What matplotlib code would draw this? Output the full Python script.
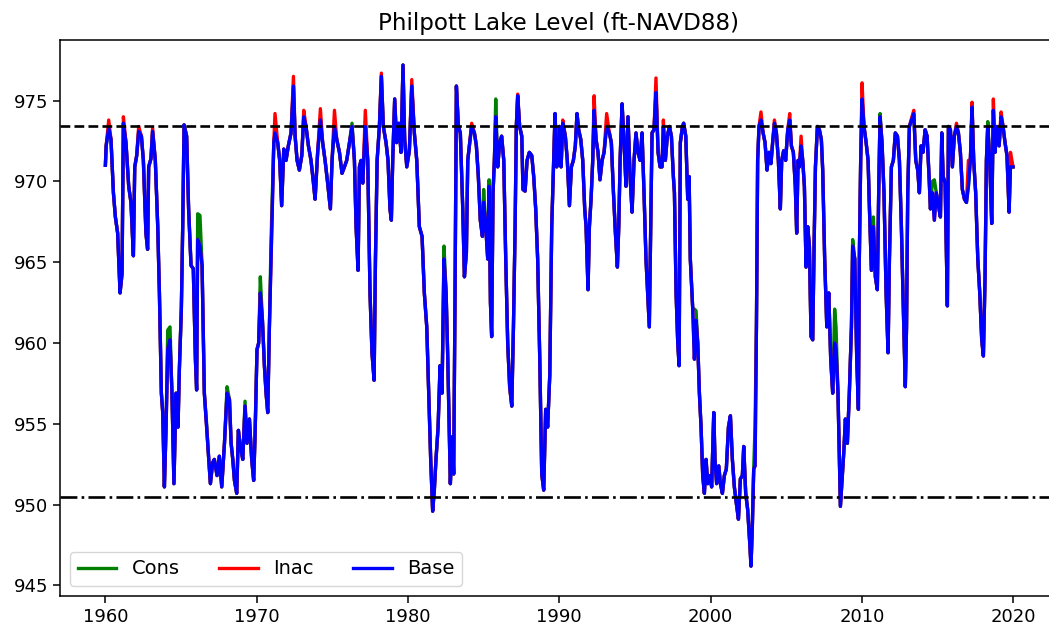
import matplotlib
matplotlib.use("Agg")
import matplotlib.pyplot as plt

# ---------------- data ----------------
years = [
    1960.00, 1960.05, 1960.22, 1960.37, 1960.53, 1960.66, 1960.81, 1960.97, 1961.10, 1961.19,
    1961.36, 1961.54, 1961.69, 1961.85, 1961.94, 1962.07, 1962.20, 1962.38, 1962.51, 1962.68,
    1962.79, 1962.86, 1963.01, 1963.12, 1963.30, 1963.46, 1963.57, 1963.70, 1963.79, 1963.90,
    1964.01, 1964.12, 1964.27, 1964.40, 1964.53, 1964.67, 1964.80, 1964.89, 1965.02, 1965.11,
    1965.20, 1965.37, 1965.50, 1965.66, 1965.81, 1965.95, 1966.03, 1966.10, 1966.25, 1966.39,
    1966.54, 1966.69, 1966.83, 1966.94, 1967.09, 1967.20, 1967.38, 1967.53, 1967.69, 1967.87,
    1968.04, 1968.20, 1968.31, 1968.42, 1968.53, 1968.68, 1968.79, 1968.92, 1969.08, 1969.23,
    1969.36, 1969.52, 1969.67, 1969.80, 1969.89, 1970.02, 1970.13, 1970.24, 1970.38, 1970.51,
    1970.62, 1970.73, 1970.84, 1970.95, 1971.04, 1971.13, 1971.21, 1971.39, 1971.52, 1971.65,
    1971.79, 1971.94, 1972.09, 1972.27, 1972.43, 1972.54, 1972.67, 1972.82, 1972.98, 1973.11,
    1973.26, 1973.42, 1973.59, 1973.73, 1973.86, 1974.03, 1974.21, 1974.36, 1974.52, 1974.69,
    1974.87, 1974.98, 1975.14, 1975.29, 1975.47, 1975.64, 1975.80, 1975.95, 1976.13, 1976.30,
    1976.46, 1976.57, 1976.70, 1976.79, 1976.90, 1977.01, 1977.18, 1977.34, 1977.49, 1977.62,
    1977.76, 1977.85, 1977.96, 1978.11, 1978.24, 1978.37, 1978.55, 1978.68, 1978.81, 1978.90,
    1978.99, 1979.12, 1979.25, 1979.39, 1979.54, 1979.67, 1979.78, 1979.92, 1980.09, 1980.25,
    1980.42, 1980.58, 1980.75, 1980.93, 1981.08, 1981.24, 1981.37, 1981.50, 1981.63, 1981.74,
    1981.85, 1981.99, 1982.12, 1982.25, 1982.38, 1982.52, 1982.63, 1982.74, 1982.80, 1982.93,
    1983.02, 1983.11, 1983.20, 1983.33, 1983.46, 1983.62, 1983.73, 1983.86, 1983.95, 1984.08,
    1984.21, 1984.39, 1984.52, 1984.65, 1984.78, 1984.92, 1985.00, 1985.14, 1985.27, 1985.36,
    1985.45, 1985.53, 1985.62, 1985.71, 1985.80, 1985.93, 1986.06, 1986.19, 1986.33, 1986.46,
    1986.59, 1986.72, 1986.86, 1986.97, 1987.08, 1987.16, 1987.25, 1987.38, 1987.52, 1987.60,
    1987.74, 1987.87, 1988.02, 1988.18, 1988.31, 1988.44, 1988.57, 1988.71, 1988.84, 1988.97,
    1989.10, 1989.23, 1989.37, 1989.50, 1989.63, 1989.72, 1989.83, 1989.96, 1990.01, 1990.12,
    1990.23, 1990.40, 1990.53, 1990.67, 1990.80, 1990.93, 1991.06, 1991.17, 1991.28, 1991.42,
    1991.55, 1991.68, 1991.77, 1991.90, 1991.99, 1992.10, 1992.21, 1992.30, 1992.43, 1992.56,
    1992.69, 1992.83, 1992.96, 1993.13, 1993.31, 1993.44, 1993.58, 1993.71, 1993.84, 1993.93,
    1994.02, 1994.15, 1994.28, 1994.41, 1994.54, 1994.68, 1994.81, 1994.94, 1995.07, 1995.20,
    1995.34, 1995.47, 1995.60, 1995.73, 1995.84, 1995.95, 1996.04, 1996.13, 1996.26, 1996.39,
    1996.53, 1996.66, 1996.79, 1996.88, 1997.01, 1997.14, 1997.28, 1997.41, 1997.54, 1997.61,
    1997.72, 1997.83, 1997.92, 1998.00, 1998.14, 1998.22, 1998.36, 1998.49, 1998.58, 1998.66,
    1998.82, 1998.93, 1999.04, 1999.15, 1999.26, 1999.37, 1999.48, 1999.59, 1999.70, 1999.81,
    1999.94, 2000.07, 2000.21, 2000.29, 2000.40, 2000.54, 2000.65, 2000.78, 2000.91, 2001.04,
    2001.18, 2001.31, 2001.44, 2001.57, 2001.70, 2001.84, 2001.97, 2002.10, 2002.19, 2002.32,
    2002.45, 2002.59, 2002.67, 2002.76, 2002.85, 2002.94, 2003.03, 2003.11, 2003.20, 2003.33,
    2003.47, 2003.60, 2003.73, 2003.86, 2003.99, 2004.10, 2004.22, 2004.35, 2004.48, 2004.61,
    2004.70, 2004.83, 2004.96, 2005.10, 2005.23, 2005.34, 2005.47, 2005.60, 2005.69, 2005.78,
    2005.87, 2005.98, 2006.09, 2006.20, 2006.31, 2006.42, 2006.53, 2006.64, 2006.75, 2006.84,
    2006.93, 2007.06, 2007.19, 2007.32, 2007.41, 2007.54, 2007.68, 2007.81, 2007.94, 2008.07,
    2008.20, 2008.29, 2008.42, 2008.51, 2008.58, 2008.69, 2008.80, 2008.91, 2009.04, 2009.17,
    2009.31, 2009.39, 2009.53, 2009.66, 2009.77, 2009.83, 2009.92, 2010.01, 2010.14, 2010.28,
    2010.41, 2010.50, 2010.63, 2010.76, 2010.89, 2011.02, 2011.11, 2011.20, 2011.33, 2011.46,
    2011.60, 2011.73, 2011.82, 2011.95, 2012.08, 2012.21, 2012.35, 2012.48, 2012.61, 2012.74,
    2012.87, 2012.95, 2013.03, 2013.14, 2013.25, 2013.43, 2013.56, 2013.69, 2013.80, 2013.91,
    2014.04, 2014.18, 2014.31, 2014.44, 2014.53, 2014.66, 2014.79, 2014.92, 2015.06, 2015.19,
    2015.28, 2015.37, 2015.50, 2015.59, 2015.65, 2015.72, 2015.85, 2015.98, 2016.11, 2016.25,
    2016.38, 2016.51, 2016.64, 2016.78, 2016.91, 2017.04, 2017.17, 2017.28, 2017.39, 2017.52,
    2017.66, 2017.79, 2017.92, 2018.03, 2018.14, 2018.23, 2018.32, 2018.45, 2018.58, 2018.69,
    2018.80, 2018.93, 2019.07, 2019.20, 2019.33, 2019.46, 2019.59, 2019.73, 2019.82, 2019.99,
]

base = [
    971.0, 972.2, 973.3, 972.6, 969.3, 967.8, 966.8, 963.1, 964.3, 973.6,
    972.4, 969.7, 968.7, 965.4, 970.9, 971.6, 973.1, 972.8, 971.3, 966.8,
    965.8, 970.9, 971.4, 973.1, 971.3, 967.2, 963.1, 956.9, 955.7, 951.1,
    954.8, 959.6, 960.2, 956.9, 951.3, 956.9, 954.8, 958.4, 962.1, 967.2,
    973.5, 972.8, 968.3, 964.8, 964.6, 959.0, 957.1, 966.4, 966.0, 964.8,
    956.9, 954.8, 952.8, 951.3, 952.6, 952.8, 951.8, 953.0, 951.1, 953.8,
    956.9, 956.5, 953.8, 952.8, 951.5, 950.7, 954.6, 953.6, 952.8, 956.1,
    953.8, 955.3, 952.8, 951.5, 954.2, 959.6, 960.0, 963.1, 961.4, 958.6,
    956.9, 955.7, 961.0, 965.2, 968.7, 972.4, 973.0, 972.4, 971.3, 968.5,
    972.0, 971.3, 972.2, 973.0, 975.9, 972.8, 971.3, 970.7, 971.6, 974.0,
    973.4, 972.2, 971.3, 970.1, 968.9, 971.8, 973.8, 972.4, 971.3, 969.9,
    968.3, 971.3, 973.4, 972.6, 971.8, 970.5, 970.9, 971.3, 972.4, 973.4,
    971.3, 967.2, 964.5, 970.9, 971.3, 969.9, 973.4, 971.3, 963.1, 959.4,
    957.7, 965.2, 971.3, 973.4, 976.5, 973.4, 972.4, 971.3, 968.3, 967.6,
    971.3, 975.1, 972.4, 973.6, 971.8, 977.2, 972.6, 970.9, 971.9, 975.9,
    973.0, 971.3, 967.2, 966.6, 963.1, 961.0, 956.9, 952.8, 949.6, 950.9,
    952.8, 954.8, 958.6, 956.9, 965.2, 963.1, 959.0, 953.8, 951.3, 954.2,
    951.9, 963.1, 975.9, 973.4, 973.0, 968.3, 964.1, 965.6, 971.3, 972.4,
    973.4, 973.0, 972.2, 970.3, 967.6, 966.6, 968.7, 967.2, 965.2, 969.7,
    962.5, 960.4, 969.3, 971.3, 974.0, 970.9, 972.4, 972.8, 971.3, 965.2,
    960.0, 957.3, 956.1, 961.0, 967.2, 973.4, 975.3, 973.4, 972.8, 969.5,
    969.4, 971.3, 971.8, 971.6, 970.3, 968.3, 965.2, 959.0, 951.9, 950.9,
    955.9, 954.8, 958.0, 967.2, 971.3, 974.2, 970.9, 971.3, 973.4, 970.9,
    973.6, 972.8, 971.3, 968.5, 970.9, 971.3, 972.2, 974.2, 973.2, 972.6,
    971.3, 968.3, 967.2, 963.3, 967.2, 968.9, 971.3, 974.4, 972.6, 971.8,
    970.1, 971.3, 971.8, 973.4, 973.0, 972.4, 969.3, 966.8, 964.7, 967.2,
    971.3, 974.8, 972.4, 969.7, 974.0, 970.3, 968.1, 971.3, 973.0, 971.8,
    971.3, 973.0, 969.3, 965.2, 963.1, 961.0, 967.2, 973.0, 973.2, 975.5,
    971.8, 970.9, 970.9, 973.4, 971.3, 972.8, 973.4, 972.8, 970.3, 969.3,
    963.1, 960.0, 958.6, 972.4, 973.4, 973.6, 972.8, 968.9, 970.3, 965.2,
    962.1, 959.0, 961.4, 960.0, 956.9, 954.8, 951.8, 950.7, 952.8, 951.3,
    951.8, 951.1, 955.7, 952.8, 951.3, 952.4, 951.3, 950.7, 951.8, 952.2,
    954.8, 955.5, 952.8, 951.1, 950.1, 949.1, 951.6, 951.8, 953.6, 950.7,
    949.7, 947.6, 946.2, 948.7, 952.2, 952.4, 961.0, 971.3, 973.4, 973.8,
    973.0, 972.4, 970.7, 971.8, 971.1, 972.4, 973.6, 973.0, 971.3, 968.3,
    971.3, 971.9, 971.3, 973.2, 973.8, 972.2, 971.8, 969.7, 966.8, 971.3,
    970.9, 972.2, 971.3, 969.7, 964.7, 967.2, 966.0, 960.4, 960.2, 966.0,
    970.9, 973.4, 973.2, 972.6, 970.7, 965.2, 961.0, 963.1, 959.0, 956.9,
    960.0, 959.6, 956.9, 952.8, 949.9, 951.6, 953.2, 955.3, 953.8, 956.9,
    961.0, 966.0, 965.2, 959.0, 955.9, 965.2, 971.3, 975.1, 973.4, 972.4,
    971.3, 968.3, 964.5, 967.2, 964.1, 963.3, 969.3, 974.0, 972.4, 969.3,
    963.1, 959.4, 965.2, 970.9, 971.3, 973.0, 972.8, 971.3, 967.2, 962.1,
    957.3, 961.0, 969.3, 973.4, 973.7, 974.2, 971.3, 970.7, 969.3, 972.2,
    971.8, 973.2, 972.8, 970.3, 968.3, 969.3, 967.6, 969.3, 968.5, 967.8,
    973.0, 970.3, 969.9, 965.2, 962.3, 973.4, 973.2, 970.9, 972.8, 973.4,
    973.0, 971.8, 969.5, 968.9, 968.7, 969.7, 971.3, 974.6, 971.3, 969.3,
    965.2, 963.1, 960.2, 959.2, 964.1, 971.3, 973.4, 971.3, 967.4, 974.4,
    971.8, 973.4, 972.2, 974.0, 973.4, 972.4, 971.6, 968.1, 970.9, 970.9,
]

# Inac series: equal to Base except where the red line shows above it
inac_points = {
    1960.22: 973.8, 1961.19: 974.0, 1962.20: 973.4, 1963.12: 973.3,
    1971.21: 974.2, 1972.43: 976.5, 1973.11: 974.4, 1974.21: 974.5,
    1975.14: 974.4, 1977.18: 974.4, 1978.24: 976.7, 1980.25: 976.3,
    1984.21: 973.6, 1987.25: 975.4, 1990.23: 973.8, 1992.30: 975.3,
    1993.13: 974.2, 1996.39: 976.4, 1996.88: 973.8, 2003.33: 974.3,
    2004.22: 973.8, 2005.23: 974.2, 2005.98: 972.8, 2010.01: 976.1,
    2013.25: 973.8, 2013.43: 974.4, 2016.25: 973.6, 2017.04: 971.3,
    2017.28: 974.9, 2018.69: 975.1, 2019.20: 974.3, 2019.82: 971.8,
}

# Cons series: equal to Base except where the green line shows above it
cons_points = {
    1964.12: 960.8, 1964.27: 961.0, 1966.10: 968.0, 1966.25: 967.9,
    1966.69: 955.0, 1968.04: 957.3, 1969.23: 956.4, 1970.24: 964.1,
    1970.95: 966.4, 1971.04: 969.3, 1976.30: 973.6, 1982.38: 966.0,
    1985.00: 969.5, 1985.36: 970.1, 1985.80: 975.1, 1998.93: 962.1,
    1999.04: 962.0, 2002.94: 954.9, 2008.20: 962.1, 2008.29: 961.0,
    2009.39: 966.4, 2010.76: 967.8, 2011.20: 974.2, 2014.66: 970.0,
    2014.79: 970.1, 2018.32: 973.7,
}

upper_level = 973.4
lower_level = 950.5

inac = [inac_points.get(y, b) for y, b in zip(years, base)]
cons = [cons_points.get(y, b) for y, b in zip(years, base)]

# ---------------- figure ----------------
W, H = 1049, 629
fig = plt.figure(figsize=(W / 100, H / 100), dpi=100)
xlim = (1957.0, 2022.95)
ylim = (944.35, 978.75)
px_per_year = 15.13
ax_left, ax_top, ax_bottom = 60, 40, 596
ax_w = (xlim[1] - xlim[0]) * px_per_year
ax = fig.add_axes([ax_left / W, (H - ax_bottom) / H, ax_w / W, (ax_bottom - ax_top) / H])

lw = 2.4
ax.plot(years, cons, color="green", lw=lw, label="Cons")
ax.plot(years, inac, color="red", lw=lw, label="Inac")
ax.plot(years, base, color="blue", lw=lw, label="Base")
ax.axhline(upper_level, color="black", ls="--", lw=1.9)
ax.axhline(lower_level, color="black", ls="-.", lw=1.9)

ax.set_xlim(*xlim)
ax.set_ylim(*ylim)
ax.set_xticks([1960, 1970, 1980, 1990, 2000, 2010, 2020])
ax.set_yticks([945, 950, 955, 960, 965, 970, 975])
ax.tick_params(labelsize=13, length=5, width=1.1)
for s in ax.spines.values():
    s.set_linewidth(1.1)
ax.set_title("Philpott Lake Level (ft-NAVD88)", fontsize=16.6, pad=7)
ax.legend(loc="lower left", ncol=3, fontsize=14)

fig.savefig("out.png", dpi=100)
